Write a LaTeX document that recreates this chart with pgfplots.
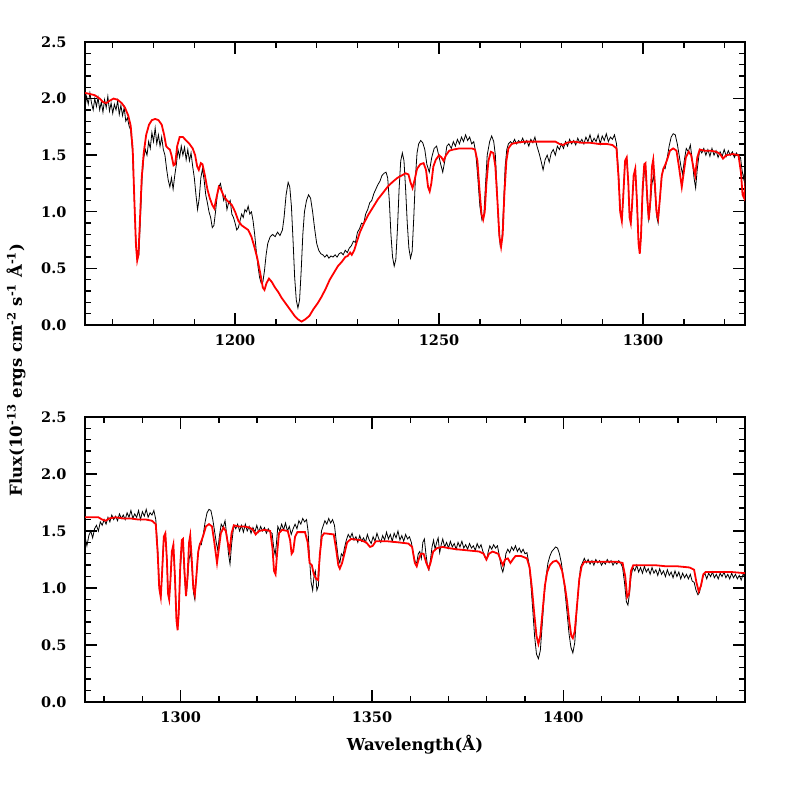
\documentclass[border=0pt]{standalone}
\usepackage{fontspec}
\setmainfont{DejaVu Serif}
\usepackage{pgfplots}
\usepackage{pgfplotstable}
\pgfplotsset{compat=1.18}

% observed spectrum (wavelength in A, flux in 1e-13)
\pgfplotstableread{
w f
1163.2 1.92
1163.6 2.02
1164.0 1.95
1164.4 2.05
1164.8 1.96
1165.2 1.90
1165.6 2.00
1166.0 1.93
1166.4 2.01
1166.8 1.90
1167.2 1.97
1167.6 1.88
1168.0 1.99
1168.4 1.92
1168.8 2.02
1169.2 1.89
1169.6 1.96
1170.0 1.87
1170.4 1.95
1170.8 1.90
1171.2 1.98
1171.6 1.86
1172.0 1.94
1172.4 1.85
1172.8 1.92
1173.2 1.80
1173.6 1.83
1174.0 1.76
1174.4 1.72
1174.8 1.55
1175.2 1.20
1175.6 0.80
1176.0 0.58
1176.4 0.62
1176.8 0.95
1177.2 1.30
1177.6 1.48
1178.0 1.55
1178.4 1.50
1178.8 1.62
1179.2 1.56
1179.6 1.70
1180.0 1.62
1180.4 1.74
1180.8 1.60
1181.2 1.68
1181.6 1.58
1182.0 1.66
1182.4 1.55
1182.8 1.50
1183.2 1.38
1183.6 1.28
1184.0 1.22
1184.4 1.30
1184.8 1.20
1185.2 1.32
1185.6 1.42
1186.0 1.55
1186.4 1.48
1186.8 1.58
1187.2 1.50
1187.6 1.57
1188.0 1.46
1188.4 1.55
1188.8 1.45
1189.2 1.52
1189.6 1.40
1190.0 1.30
1190.4 1.15
1190.8 1.02
1191.2 1.12
1191.6 1.30
1192.0 1.38
1192.4 1.28
1192.8 1.15
1193.2 1.08
1193.6 1.00
1194.0 0.95
1194.4 0.86
1194.8 0.88
1195.2 1.00
1195.6 1.14
1196.0 1.22
1196.4 1.25
1196.8 1.18
1197.2 1.10
1197.6 1.14
1198.0 1.02
1198.4 1.08
1198.8 1.10
1199.2 0.98
1199.6 0.95
1200.0 0.90
1200.4 0.84
1200.8 0.86
1201.2 0.92
1201.6 0.98
1202.0 0.95
1202.4 1.02
1202.8 1.00
1203.2 1.05
1203.6 0.98
1204.0 1.00
1204.4 0.92
1204.8 0.80
1205.2 0.65
1205.6 0.52
1206.0 0.42
1206.4 0.37
1206.8 0.38
1207.2 0.48
1207.6 0.62
1208.0 0.72
1208.6 0.78
1209.2 0.80
1209.8 0.78
1210.4 0.82
1211.0 0.79
1211.6 0.84
1212.0 0.95
1212.5 1.15
1213.0 1.26
1213.4 1.22
1213.8 1.05
1214.2 0.75
1214.6 0.42
1215.0 0.22
1215.4 0.15
1215.8 0.22
1216.2 0.48
1216.6 0.80
1217.0 1.00
1217.5 1.10
1218.0 1.15
1218.5 1.12
1219.0 1.00
1219.5 0.85
1220.0 0.72
1220.5 0.66
1221.0 0.63
1221.5 0.62
1222.0 0.60
1222.5 0.62
1223.0 0.59
1223.5 0.61
1224.0 0.60
1224.5 0.62
1225.0 0.60
1225.5 0.63
1226.0 0.64
1226.5 0.62
1227.0 0.66
1227.5 0.64
1228.0 0.68
1228.5 0.70
1229.0 0.74
1229.5 0.73
1230.0 0.82
1230.5 0.85
1231.0 0.90
1231.5 0.89
1232.0 0.98
1232.5 1.02
1233.0 1.08
1233.5 1.10
1234.0 1.16
1234.5 1.20
1235.0 1.24
1235.5 1.27
1236.0 1.32
1236.5 1.34
1237.0 1.35
1237.4 1.30
1237.8 1.10
1238.2 0.80
1238.6 0.60
1239.0 0.52
1239.4 0.58
1239.8 0.85
1240.2 1.20
1240.6 1.45
1241.0 1.52
1241.4 1.45
1241.8 1.20
1242.2 0.90
1242.6 0.68
1243.0 0.59
1243.4 0.65
1243.8 0.95
1244.2 1.30
1244.6 1.52
1245.0 1.60
1245.5 1.63
1246.0 1.61
1246.5 1.55
1247.0 1.42
1247.6 1.35
1248.2 1.48
1248.8 1.56
1249.4 1.58
1249.9 1.50
1250.4 1.42
1250.9 1.35
1251.4 1.45
1251.9 1.58
1252.4 1.60
1253.0 1.56
1253.5 1.62
1254.0 1.58
1254.5 1.64
1255.0 1.60
1255.5 1.66
1256.0 1.62
1256.5 1.68
1257.0 1.63
1257.5 1.66
1258.0 1.60
1258.5 1.62
1259.0 1.52
1259.5 1.30
1260.0 1.05
1260.5 0.93
1261.0 0.98
1261.4 1.25
1261.8 1.50
1262.4 1.62
1262.9 1.67
1263.4 1.62
1263.8 1.50
1264.2 1.20
1264.6 0.85
1265.0 0.70
1265.4 0.75
1265.8 1.05
1266.2 1.40
1266.6 1.55
1267.0 1.60
1267.5 1.62
1268.0 1.60
1268.5 1.64
1269.0 1.60
1269.5 1.63
1270.0 1.61
1270.5 1.65
1271.0 1.60
1271.5 1.63
1272.0 1.58
1272.5 1.64
1273.0 1.61
1273.5 1.66
1274.0 1.58
1274.5 1.52
1275.0 1.45
1275.5 1.37
1276.0 1.46
1276.5 1.50
1277.0 1.44
1277.5 1.52
1278.0 1.55
1278.5 1.50
1279.0 1.58
1279.5 1.55
1280.0 1.60
1280.5 1.56
1281.0 1.62
1281.5 1.58
1282.0 1.64
1282.5 1.60
1283.0 1.63
1283.5 1.59
1284.0 1.65
1284.5 1.61
1285.0 1.64
1285.5 1.60
1286.0 1.66
1286.5 1.62
1287.0 1.68
1287.5 1.61
1288.0 1.65
1288.5 1.62
1289.0 1.68
1289.5 1.60
1290.0 1.67
1290.5 1.63
1291.0 1.69
1291.5 1.62
1292.0 1.66
1292.5 1.64
1293.0 1.68
1293.5 1.60
1294.0 1.35
1294.4 1.05
1294.8 0.91
1295.1 1.10
1295.5 1.40
1296.0 1.47
1296.4 1.25
1296.7 0.98
1297.0 0.91
1297.3 1.05
1297.7 1.30
1298.1 1.37
1298.5 1.10
1298.9 0.75
1299.2 0.64
1299.5 0.78
1299.9 1.15
1300.3 1.35
1300.6 1.39
1301.0 1.10
1301.4 0.93
1301.7 1.02
1302.2 1.25
1302.6 1.32
1303.0 1.15
1303.4 0.95
1303.7 0.90
1304.0 1.05
1304.5 1.30
1305.0 1.39
1305.4 1.38
1305.9 1.47
1306.4 1.58
1306.9 1.66
1307.4 1.69
1307.9 1.68
1308.4 1.60
1308.9 1.49
1309.3 1.40
1309.7 1.33
1310.1 1.45
1310.6 1.56
1311.1 1.53
1311.6 1.59
1312.1 1.45
1312.5 1.30
1312.9 1.21
1313.3 1.38
1313.9 1.55
1314.4 1.52
1314.9 1.56
1315.4 1.50
1315.9 1.55
1316.4 1.49
1316.9 1.56
1317.4 1.50
1317.9 1.54
1318.4 1.48
1318.9 1.53
1319.4 1.49
1319.9 1.55
1320.4 1.49
1320.9 1.54
1321.4 1.50
1321.9 1.53
1322.4 1.48
1322.9 1.52
1323.4 1.49
1323.9 1.48
1324.3 1.36
1324.7 1.29
1325.0 1.38
1325.4 1.54
1325.9 1.50
1326.4 1.56
1326.9 1.51
1327.4 1.57
1327.9 1.50
1328.4 1.54
1328.9 1.47
1329.4 1.52
1329.9 1.56
1330.4 1.52
1330.9 1.59
1331.4 1.56
1331.9 1.61
1332.4 1.58
1332.9 1.60
1333.3 1.50
1333.7 1.25
1334.1 1.05
1334.5 0.98
1334.9 1.12
1335.2 1.15
1335.6 0.98
1336.0 1.02
1336.4 1.30
1336.8 1.50
1337.2 1.54
1337.7 1.59
1338.2 1.56
1338.7 1.61
1339.2 1.57
1339.7 1.60
1340.2 1.55
1340.7 1.40
1341.2 1.26
1341.6 1.22
1342.0 1.30
1342.4 1.28
1342.8 1.35
1343.3 1.42
1343.8 1.47
1344.3 1.44
1344.8 1.48
1345.3 1.42
1345.8 1.45
1346.3 1.40
1346.8 1.46
1347.3 1.41
1347.8 1.44
1348.3 1.40
1348.8 1.47
1349.3 1.42
1349.8 1.39
1350.3 1.45
1350.8 1.41
1351.3 1.48
1351.8 1.43
1352.3 1.40
1352.8 1.46
1353.3 1.42
1353.8 1.49
1354.3 1.43
1354.8 1.47
1355.3 1.41
1355.8 1.48
1356.3 1.44
1356.8 1.50
1357.3 1.42
1357.8 1.46
1358.3 1.41
1358.8 1.47
1359.3 1.43
1359.8 1.45
1360.3 1.40
1360.8 1.30
1361.3 1.23
1361.7 1.22
1362.1 1.30
1362.5 1.32
1362.9 1.26
1363.3 1.40
1363.7 1.43
1364.1 1.30
1364.5 1.20
1364.9 1.16
1365.3 1.25
1365.7 1.36
1366.1 1.42
1366.5 1.34
1366.9 1.40
1367.3 1.44
1367.7 1.31
1368.1 1.38
1368.5 1.43
1369.0 1.36
1369.5 1.40
1370.0 1.35
1370.5 1.41
1371.0 1.36
1371.5 1.39
1372.0 1.34
1372.5 1.40
1373.0 1.36
1373.5 1.41
1374.0 1.35
1374.5 1.38
1375.0 1.34
1375.5 1.39
1376.0 1.35
1376.5 1.37
1377.0 1.33
1377.5 1.39
1378.0 1.35
1378.5 1.38
1379.0 1.32
1379.5 1.27
1380.0 1.25
1380.4 1.32
1380.8 1.37
1381.3 1.34
1381.8 1.38
1382.3 1.35
1382.8 1.37
1383.3 1.28
1383.8 1.18
1384.2 1.14
1384.6 1.20
1385.0 1.30
1385.5 1.34
1386.0 1.31
1386.5 1.36
1387.0 1.33
1387.5 1.37
1388.0 1.32
1388.5 1.35
1389.0 1.31
1389.5 1.34
1390.0 1.30
1390.5 1.31
1391.0 1.22
1391.5 1.05
1392.0 0.82
1392.5 0.58
1393.0 0.42
1393.5 0.38
1394.0 0.45
1394.5 0.68
1395.0 0.92
1395.5 1.10
1396.0 1.22
1396.5 1.28
1397.0 1.32
1397.5 1.34
1398.0 1.36
1398.5 1.35
1399.0 1.30
1399.5 1.22
1400.0 1.10
1400.5 0.95
1401.0 0.78
1401.5 0.60
1402.0 0.48
1402.5 0.43
1403.0 0.52
1403.5 0.78
1404.0 1.02
1404.5 1.18
1405.0 1.22
1405.5 1.26
1406.0 1.22
1406.5 1.25
1407.0 1.21
1407.5 1.24
1408.0 1.20
1408.5 1.25
1409.0 1.22
1409.5 1.24
1410.0 1.20
1410.5 1.23
1411.0 1.21
1411.5 1.25
1412.0 1.22
1412.5 1.24
1413.0 1.20
1413.5 1.23
1414.0 1.21
1414.5 1.24
1415.0 1.22
1415.5 1.18
1416.0 1.05
1416.5 0.88
1416.9 0.85
1417.3 0.95
1417.7 1.10
1418.2 1.18
1418.7 1.15
1419.2 1.20
1419.7 1.14
1420.2 1.18
1420.7 1.13
1421.2 1.19
1421.7 1.14
1422.2 1.17
1422.7 1.12
1423.2 1.18
1423.7 1.13
1424.2 1.16
1424.7 1.11
1425.2 1.17
1425.7 1.12
1426.2 1.15
1426.7 1.10
1427.2 1.16
1427.7 1.11
1428.2 1.14
1428.7 1.09
1429.2 1.15
1429.7 1.10
1430.2 1.14
1430.7 1.08
1431.2 1.13
1431.7 1.09
1432.2 1.12
1432.7 1.08
1433.2 1.12
1433.7 1.06
1434.2 1.05
1434.7 0.98
1435.2 0.94
1435.6 0.96
1436.0 1.03
1436.5 1.10
1437.0 1.13
1437.5 1.08
1438.0 1.13
1438.5 1.10
1439.0 1.14
1439.5 1.09
1440.0 1.12
1440.5 1.08
1441.0 1.13
1441.5 1.10
1442.0 1.14
1442.5 1.09
1443.0 1.12
1443.5 1.08
1444.0 1.13
1444.5 1.09
1445.0 1.12
1445.5 1.08
1446.0 1.11
1446.5 1.07
1447.0 1.12
1447.5 1.10
}\spec

% model spectrum
\pgfplotstableread{
w f
1163.2 2.05
1164.5 2.04
1165.6 2.03
1166.8 2.00
1167.6 1.97
1168.4 1.96
1169.2 1.98
1170.2 2.00
1171.2 1.99
1172.2 1.96
1173.0 1.92
1173.8 1.85
1174.4 1.76
1174.9 1.55
1175.3 1.10
1175.7 0.70
1176.0 0.57
1176.3 0.62
1176.7 0.95
1177.1 1.30
1177.6 1.52
1178.2 1.68
1178.9 1.77
1179.6 1.81
1180.4 1.82
1181.2 1.81
1182.0 1.77
1182.6 1.68
1183.1 1.58
1183.6 1.56
1184.0 1.55
1184.4 1.50
1184.9 1.41
1185.3 1.42
1185.8 1.58
1186.4 1.66
1187.2 1.66
1188.0 1.63
1188.8 1.60
1189.6 1.56
1190.2 1.50
1190.7 1.40
1191.1 1.37
1191.6 1.43
1192.0 1.42
1192.6 1.32
1193.2 1.20
1193.8 1.12
1194.4 1.06
1194.9 1.03
1195.4 1.12
1196.0 1.22
1196.5 1.20
1197.2 1.14
1198.0 1.10
1198.6 1.08
1199.2 1.06
1200.0 1.00
1200.8 0.92
1201.6 0.88
1202.4 0.86
1203.2 0.84
1204.0 0.78
1204.8 0.68
1205.5 0.58
1206.2 0.45
1206.8 0.33
1207.2 0.31
1207.7 0.37
1208.3 0.41
1209.0 0.38
1209.8 0.33
1210.6 0.29
1211.4 0.24
1212.2 0.20
1213.0 0.16
1213.8 0.12
1214.6 0.08
1215.4 0.05
1216.3 0.03
1217.2 0.05
1218.2 0.08
1219.2 0.14
1220.2 0.19
1221.2 0.25
1222.2 0.32
1223.2 0.40
1224.2 0.46
1225.2 0.52
1226.2 0.56
1227.0 0.60
1227.6 0.61
1228.2 0.64
1228.6 0.62
1229.2 0.66
1229.8 0.73
1230.6 0.82
1231.6 0.90
1232.6 0.97
1233.8 1.04
1235.0 1.11
1236.3 1.17
1237.6 1.23
1238.8 1.27
1239.8 1.30
1240.8 1.32
1241.8 1.34
1242.5 1.33
1243.0 1.26
1243.5 1.21
1244.0 1.28
1244.6 1.38
1245.4 1.42
1246.2 1.43
1246.8 1.37
1247.3 1.22
1247.7 1.18
1248.1 1.25
1248.6 1.40
1249.2 1.46
1250.0 1.50
1250.6 1.48
1251.1 1.45
1251.7 1.50
1252.5 1.54
1253.5 1.55
1255.0 1.56
1256.5 1.56
1258.0 1.56
1258.8 1.55
1259.4 1.45
1259.9 1.20
1260.4 0.98
1260.8 0.93
1261.2 1.00
1261.6 1.25
1262.1 1.45
1262.7 1.53
1263.3 1.52
1263.8 1.40
1264.3 1.10
1264.8 0.78
1265.2 0.69
1265.6 0.80
1266.0 1.15
1266.5 1.45
1267.0 1.56
1267.8 1.60
1269.0 1.61
1271.0 1.62
1273.0 1.62
1275.0 1.62
1277.0 1.62
1278.5 1.62
1279.5 1.60
1280.4 1.59
1281.3 1.61
1283.0 1.62
1285.0 1.61
1287.0 1.61
1289.0 1.60
1291.0 1.60
1292.5 1.59
1293.5 1.56
1294.0 1.30
1294.4 1.00
1294.8 0.92
1295.1 1.10
1295.6 1.45
1296.0 1.48
1296.4 1.25
1296.7 0.95
1297.0 0.90
1297.3 1.05
1297.7 1.32
1298.1 1.38
1298.5 1.10
1298.9 0.72
1299.2 0.63
1299.5 0.78
1299.9 1.20
1300.3 1.42
1300.6 1.43
1301.0 1.15
1301.4 0.93
1301.8 1.10
1302.2 1.40
1302.5 1.46
1302.9 1.25
1303.3 1.00
1303.7 0.94
1304.1 1.10
1304.6 1.32
1305.0 1.38
1305.5 1.42
1306.0 1.47
1306.6 1.54
1307.4 1.56
1308.2 1.54
1308.8 1.40
1309.5 1.22
1310.0 1.35
1310.5 1.48
1311.2 1.53
1311.8 1.50
1312.3 1.40
1312.8 1.32
1313.3 1.48
1313.9 1.55
1315.0 1.54
1316.5 1.54
1318.0 1.53
1318.9 1.51
1319.6 1.47
1320.4 1.50
1322.0 1.51
1323.4 1.50
1324.0 1.35
1324.4 1.15
1324.8 1.12
1325.2 1.30
1325.7 1.48
1326.5 1.51
1328.0 1.50
1328.6 1.42
1329.0 1.30
1329.4 1.32
1329.9 1.45
1330.5 1.49
1332.5 1.49
1333.2 1.40
1333.7 1.22
1334.3 1.20
1334.8 1.12
1335.4 1.08
1335.9 1.07
1336.4 1.30
1336.9 1.45
1337.5 1.48
1340.0 1.47
1340.6 1.35
1341.2 1.20
1341.6 1.17
1342.2 1.22
1342.8 1.30
1343.5 1.40
1344.5 1.43
1347.0 1.42
1348.5 1.40
1349.5 1.36
1350.2 1.37
1351.0 1.41
1354.0 1.41
1357.0 1.40
1359.5 1.39
1360.5 1.36
1361.2 1.22
1361.7 1.19
1362.2 1.25
1362.8 1.30
1363.5 1.30
1364.2 1.22
1364.8 1.17
1365.3 1.22
1366.0 1.32
1367.0 1.35
1368.5 1.36
1370.0 1.35
1372.0 1.34
1375.0 1.33
1378.0 1.32
1379.2 1.30
1379.9 1.25
1380.6 1.30
1381.5 1.32
1383.0 1.30
1383.7 1.24
1384.2 1.20
1384.8 1.25
1385.5 1.26
1386.2 1.22
1386.8 1.25
1387.5 1.28
1389.0 1.28
1390.5 1.26
1391.2 1.18
1391.8 1.00
1392.4 0.78
1393.0 0.58
1393.5 0.51
1394.0 0.58
1394.6 0.80
1395.2 1.02
1395.8 1.14
1396.5 1.20
1397.3 1.23
1398.2 1.24
1399.0 1.21
1399.7 1.15
1400.4 1.02
1401.0 0.88
1401.6 0.70
1402.1 0.58
1402.5 0.56
1403.0 0.62
1403.6 0.85
1404.2 1.08
1404.8 1.19
1405.5 1.23
1408.0 1.23
1411.0 1.23
1414.0 1.23
1415.5 1.22
1416.2 1.10
1416.7 0.92
1417.2 0.95
1417.7 1.15
1418.3 1.20
1421.0 1.20
1424.0 1.20
1427.0 1.19
1430.0 1.19
1433.0 1.18
1434.2 1.16
1434.8 1.05
1435.4 0.97
1436.0 1.02
1436.6 1.12
1437.2 1.14
1440.0 1.14
1444.0 1.14
1447.5 1.13
}\model

\pgfplotsset{
  specpanel/.style={
    scale only axis, width=660pt, anchor=south west,
    ymin=0, ymax=2.5,
    ytick={0,0.5,...,2.5}, minor ytick={0,0.1,...,2.5},
    tick align=inside, major tick length=12pt, minor tick length=6pt,
    axis line style={line width=1.4pt},
    every tick/.style={black, line width=1.4pt},
    ticklabel style={font=\fontsize{14.5}{16}\selectfont\bfseries},
    yticklabel style={xshift=-15pt},
    xticklabel style={yshift=-6pt},
    /pgf/number format/assume math mode=true,
    /pgf/number format/1000 sep={},
    yticklabel={\pgfmathprintnumber[fixed,fixed zerofill,precision=1]{\tick}},
  },
}

\begin{document}
\begin{tikzpicture}
\path[use as bounding box] (0pt,0pt) rectangle (785pt,785pt);

\begin{axis}[specpanel, at={(85pt,460pt)}, height=283pt,
  xmin=1163.2, xmax=1325,
  xtick={1200,1250,1300}, minor xtick={1170,1180,...,1320}]
\addplot[black, line width=0.8pt] table[x=w, y=f] {\spec};
\addplot[red, line width=1.8pt] table[x=w, y=f] {\model};
\end{axis}

\begin{axis}[specpanel, at={(85pt,83pt)}, height=285pt,
  xmin=1275, xmax=1447.5,
  xtick={1300,1350,1400}, minor xtick={1280,1290,...,1440}]
\addplot[black, line width=0.8pt] table[x=w, y=f] {\spec};
\addplot[red, line width=1.8pt] table[x=w, y=f] {\model};
\end{axis}

\node[rotate=90, font=\fontsize{16.5}{18}\selectfont\bfseries] at (16pt,415pt)
  {Flux(10\textsuperscript{-13} ergs cm\textsuperscript{-2} s\textsuperscript{-1} Å\textsuperscript{-1})};
\node[font=\fontsize{16.5}{18}\selectfont\bfseries] at (415pt,40pt) {Wavelength(Å)};
\end{tikzpicture}
\end{document}
